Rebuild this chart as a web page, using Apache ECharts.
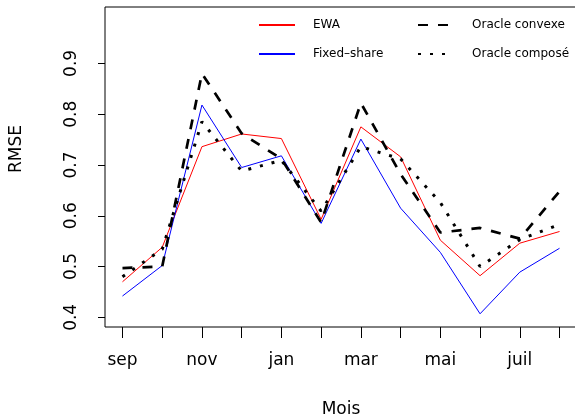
<!DOCTYPE html>
<html>
<head>
<meta charset="utf-8">
<script src="https://cdn.jsdelivr.net/npm/echarts@6/dist/echarts.min.js"></script>
<style>
  html, body { margin: 0; padding: 0; background: #fff; }
  #chart { width: 575px; height: 417px; }
</style>
</head>
<body>
<div id="chart"></div>
<script>
// Months (x categories)
const months = ['sep', 'oct', 'nov', 'déc', 'jan', 'fév', 'mar', 'avr', 'mai', 'juin', 'juil', 'août'];
// Tick labels actually printed on the x axis (R dropped overlapping ones)
const shownMonths = ['sep', 'nov', 'jan', 'mar', 'mai', 'juil'];
const yTicks = [0.4, 0.5, 0.6, 0.7, 0.8, 0.9];

// Series values (RMSE)
const ewa        = [0.470, 0.538, 0.736, 0.761, 0.752, 0.593, 0.775, 0.716, 0.552, 0.482, 0.546, 0.569];
const fixedShare = [0.442, 0.502, 0.818, 0.695, 0.718, 0.585, 0.751, 0.615, 0.528, 0.407, 0.489, 0.536];
const oracleConv = [0.497, 0.500, 0.880, 0.762, 0.712, 0.587, 0.822, 0.682, 0.567, 0.576, 0.555, 0.648];
const oracleComp = [0.480, 0.534, 0.785, 0.688, 0.709, 0.609, 0.736, 0.712, 0.626, 0.500, 0.553, 0.583];

const toPairs = arr => arr.map((v, i) => [i + 1, v]);
const monthPos = months.map((m, i) => i + 1);
const shownPos = shownMonths.map(m => months.indexOf(m) + 1);

const FONT = 'DejaVu Sans';
const chart = echarts.init(document.getElementById('chart'), null, { renderer: 'canvas' });

const legendText = { fontFamily: FONT, fontSize: 12, color: '#000', padding: [0, 0, 0, 13] };
function makeLegend(left, names) {
  return {
    orient: 'vertical', left: left, top: 19, padding: 0,
    itemWidth: 36, itemHeight: 14, itemGap: 17,
    itemStyle: { opacity: 0 },
    textStyle: legendText,
    data: names
  };
}

chart.setOption({
  animation: false,
  backgroundColor: '#fff',
  grid: {
    left: 105, top: 7, width: 472, height: 320,
    outerBoundsMode: 'none', containLabel: false,
    show: true, borderColor: '#000', borderWidth: 1, backgroundColor: 'transparent'
  },
  xAxis: {
    type: 'value', min: 0.56, max: 12.44,
    name: 'Mois', nameLocation: 'middle', nameGap: 74,
    nameTextStyle: { fontFamily: FONT, fontSize: 17, color: '#000' },
    axisLine: { show: false },
    splitLine: { show: false },
    axisTick: { show: true, customValues: monthPos, length: 11, inside: false, lineStyle: { color: '#000', width: 1 } },
    axisLabel: {
      customValues: shownPos, margin: 25,
      fontFamily: FONT, fontSize: 17, color: '#000',
      formatter: v => months[Math.round(v) - 1]
    }
  },
  yAxis: {
    type: 'value', min: 0.381, max: 1.011,
    axisLine: { show: false },
    splitLine: { show: false },
    axisTick: { show: true, customValues: yTicks, length: 7, lineStyle: { color: '#000', width: 1 } },
    axisLabel: {
      customValues: yTicks, rotate: 90, margin: 25,
      fontFamily: FONT, fontSize: 17, color: '#000',
      formatter: v => v.toFixed(1)
    }
  },
  graphic: [{
    type: 'text', x: 17, y: 149, rotation: Math.PI / 2,
    style: { text: 'RMSE', fontFamily: FONT, fontSize: 17, fill: '#000', align: 'center', verticalAlign: 'middle' }
  }],
  legend: [
    makeLegend(258, ['EWA', 'Fixed\u2013share']),
    makeLegend(417, ['Oracle convexe', 'Oracle composé'])
  ],
  series: [
    {
      name: 'EWA', type: 'line', data: toPairs(ewa), symbol: 'none',
      lineStyle: { color: '#ff0000', width: 1 }, itemStyle: { color: '#ff0000' }
    },
    {
      name: 'Fixed\u2013share', type: 'line', data: toPairs(fixedShare), symbol: 'none',
      lineStyle: { color: '#0000ff', width: 1 }, itemStyle: { color: '#0000ff' }
    },
    {
      name: 'Oracle convexe', type: 'line', data: toPairs(oracleConv), symbol: 'none',
      lineStyle: { color: '#000', width: 2.7, type: [10, 10], cap: 'butt' }, itemStyle: { color: '#000' }
    },
    {
      name: 'Oracle composé', type: 'line', data: toPairs(oracleComp), symbol: 'none',
      lineStyle: { color: '#000', width: 3, type: [3, 9], cap: 'butt' }, itemStyle: { color: '#000' }
    }
  ]
});
</script>
</body>
</html>
